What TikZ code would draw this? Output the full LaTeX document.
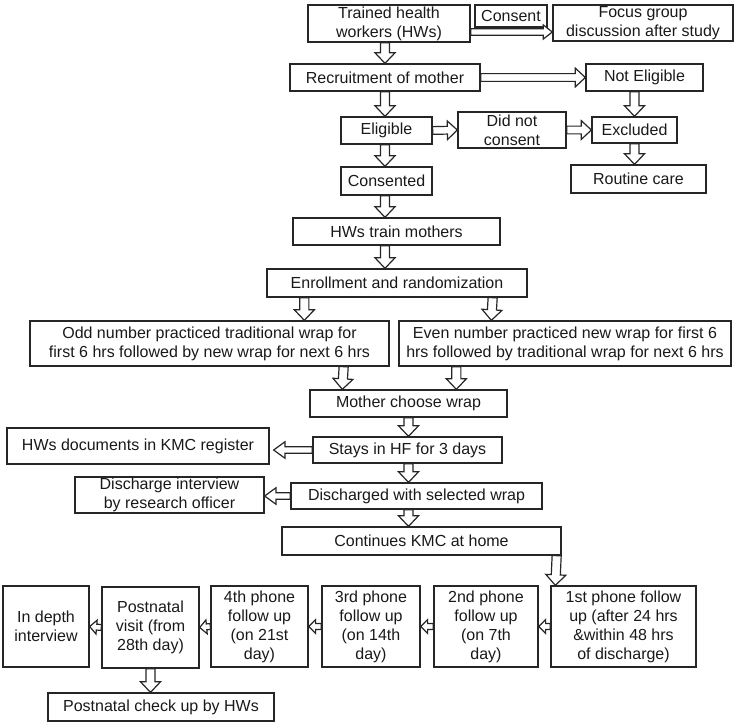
\documentclass[tikz,border=0pt]{standalone}
\usepackage{fontspec}
\setmainfont{Liberation Sans}
\usetikzlibrary{calc}

\begin{document}
\begin{tikzpicture}
	[x=0.75pt,y=-0.75pt,every node/.style={draw=black!85,line width=1pt,align=center,inner xsep=2pt,inner ysep=0pt,text=black!90,font=\fontsize{12}{14.2}\selectfont},
	fat/.style n args={3}{line width=0.9pt,draw=black!85,fill=white,to path={($(\tikztostart)!#1!90:(\tikztotarget)$) -- ($(\tikztotarget)!#3!(\tikztostart)!#1!90:(\tikztotarget)$) -- ($(\tikztotarget)!#3!(\tikztostart)!#2!90:(\tikztotarget)$) -- (\tikztotarget) -- ($(\tikztotarget)!#3!(\tikztostart)!#2!-90:(\tikztotarget)$) -- ($(\tikztotarget)!#3!(\tikztostart)!#1!-90:(\tikztotarget)$) -- ($(\tikztostart)!#1!-90:(\tikztotarget)$) -- cycle}}]
	\tikzstyle{arrdown} = [fat={3.4pt}{7.5pt}{7.9pt}];
	\tikzstyle{arrside} = [fat={2.9pt}{7pt}{7.5pt}];
	\tikzstyle{arrslim} = [fat={2.4pt}{5.3pt}{6.8pt}];
	\tikzstyle{arrleft} = [fat={2.5pt}{6.2pt}{8.5pt}];
	\tikzstyle{arrtiny} = [fat={2.2pt}{5.2pt}{5.2pt}];

	\useasboundingbox (0,0) rectangle (740,726);

	\node[minimum width=121.5pt,minimum height=27.75pt] (trained) at (389,23.5) {Trained health\\workers (HWs)};
	\node[minimum width=54pt,minimum height=16.5pt] (consent) at (511,16) {Consent};
	\node[minimum width=135pt,minimum height=27pt] (focus) at (643,23) {Focus group\\discussion after study};
	\node[minimum width=142.5pt,minimum height=20.25pt] (recruit) at (385,77.5) {Recruitment of mother};
	\node[minimum width=87.75pt,minimum height=20.25pt] (noteli) at (644.5,77.5) {Not Eligible};
	\node[minimum width=68.25pt,minimum height=20.25pt] (eligible) at (386.5,130.5) {Eligible};
	\node[minimum width=81pt,minimum height=27pt] (notcons) at (512,130) {Did not\\consent};
	\node[minimum width=63.75pt,minimum height=19.5pt] (excluded) at (634.5,130) {Excluded};
	\node[minimum width=68.25pt,minimum height=21pt] (consented) at (386.5,181) {Consented};
	\node[minimum width=101.25pt,minimum height=21pt] (routine) at (638.5,179) {Routine care};
	\node[minimum width=155.25pt,minimum height=20.25pt] (train) at (396.5,231.5) {HWs train mothers};
	\node[minimum width=195pt,minimum height=21pt] (enrol) at (397,283) {Enrollment and randomization};
	\node[minimum width=269.25pt,minimum height=33.75pt] (odd) at (209.5,343.5) {Odd number practiced traditional wrap for\\first 6 hrs followed by new wrap for next 6 hrs};
	\node[minimum width=249pt,minimum height=33.75pt] (even) at (565,343.5) {Even number practiced new wrap for first 6\\hrs followed by traditional wrap for next 6 hrs};
	\node[minimum width=147.75pt,minimum height=20.25pt] (mother) at (408.5,403.5) {Mother choose wrap};
	\node[minimum width=141.75pt,minimum height=19.5pt] (stays) at (407.5,450) {Stays in HF for 3 days};
	\node[minimum width=196.5pt,minimum height=27pt] (hwdoc) at (138,446) {HWs documents in KMC register};
	\node[minimum width=188.25pt,minimum height=19.5pt] (discharged) at (416.5,496) {Discharged with selected wrap};
	\node[minimum width=141.75pt,minimum height=27pt] (interview) at (169.5,495) {Discharge interview\\by research officer};
	\node[minimum width=209.25pt,minimum height=21pt] (home) at (421.5,541) {Continues KMC at home};
	\node[minimum width=108.75pt,minimum height=60.75pt] (first) at (623.5,626.5) {1st phone follow\\up (after 24 hrs\\\&within 48 hrs\\of discharge)};
	\node[minimum width=78pt,minimum height=60.75pt] (second) at (486,626.5) {2nd phone\\follow up\\(on 7th\\day)};
	\node[minimum width=73.5pt,minimum height=60.75pt] (third) at (371,626.5) {3rd phone\\follow up\\(on 14th\\day)};
	\node[minimum width=72.75pt,minimum height=60.75pt] (fourth) at (259.5,626.5) {4th phone\\follow up\\(on 21st\\day)};
	\node[minimum width=72.75pt,minimum height=60.75pt] (visit) at (150.5,627.5) {Postnatal\\visit (from\\28th day)};
	\node[minimum width=64.5pt,minimum height=60.75pt] (indepth) at (46,626.5) {In depth\\interview};
	\node[minimum width=169.5pt,minimum height=21pt] (checkup) at (161,707) {Postnatal check up by HWs};

	\draw[arrdown] (trained.south -| recruit) to (recruit.north);
	\draw[arrslim] ($(trained.east)+(0,8.5)$) to ($(focus.west)+(0,9)$);
	\draw[arrside] (recruit.east) to (noteli.west);
	\draw[arrdown] (recruit.south) to (eligible.north -| recruit);
	\draw[arrdown] (noteli.south -| excluded) to (excluded.north);
	\draw[arrside] (eligible.east) to (notcons.west);
	\draw[arrside] (notcons.east) to (excluded.west);
	\draw[arrdown] (excluded.south) to (routine.north -| excluded);
	\draw[arrdown] (eligible.south -| recruit) to (consented.north -| recruit);
	\draw[arrdown] (consented.south -| recruit) to (train.north -| recruit);
	\draw[arrdown] (train.south -| recruit) to (enrol.north -| recruit);
	\draw[arrdown] ($(enrol.south west)+(38,0)$) to ($(odd.north west)+(275,0)$);
	\draw[arrdown] ($(enrol.south east)+(-35,0)$) to ($(even.north west)+(93,0)$);
	\draw[arrdown] ($(odd.south east)+(-46,0)$) to ($(mother.north west)+(33,0)$);
	\draw[arrdown] ($(even.south west)+(58,0)$) to ($(mother.north west)+(147,0)$);
	\draw[arrdown] (mother.south) to (stays.north -| mother);
	\draw[arrleft] (stays.west) to ($(hwdoc.east |- stays.west)+(4,0)$);
	\draw[arrdown] (stays.south -| mother) to (discharged.north -| mother);
	\draw[arrleft] (discharged.west) to (interview.east |- discharged.west);
	\draw[arrdown] (discharged.south -| mother) to (home.north -| mother);
	\draw[arrdown] ($(home.south east)+(-5,0)$) to ($(first.north west)+(5,0)$);
	\draw[arrtiny] (first.west) to (second.east);
	\draw[arrtiny] (second.west) to (third.east);
	\draw[arrtiny] (third.west) to (fourth.east);
	\draw[arrtiny] (fourth.west) to (visit.east);
	\draw[arrtiny] (visit.west) to (indepth.east);
	\draw[arrdown] (visit.south) to (checkup.north -| visit);
\end{tikzpicture}
\end{document}
